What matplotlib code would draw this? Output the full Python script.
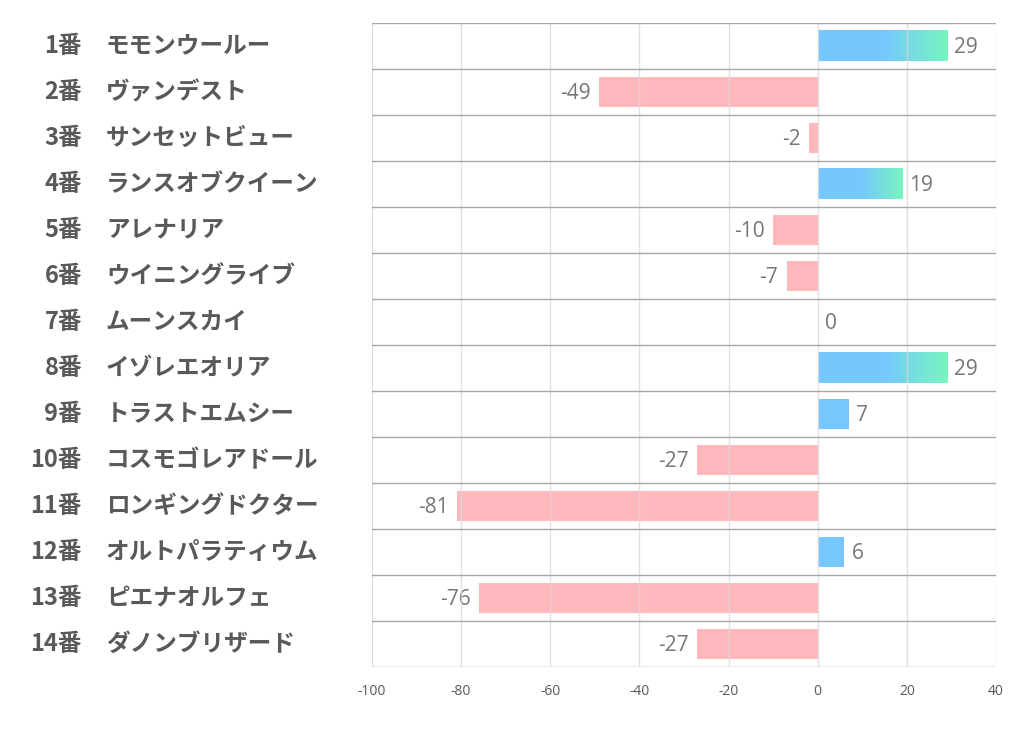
import numpy as np
import matplotlib
matplotlib.use("Agg")
import matplotlib.pyplot as plt
from matplotlib.transforms import blended_transform_factory
from matplotlib.colors import to_rgb

plt.rcParams['font.family'] = ['Noto Sans CJK JP', 'DejaVu Sans']

numbers = ["1番", "2番", "3番", "4番", "5番", "6番", "7番", "8番", "9番", "10番", "11番", "12番", "13番", "14番"]
names = ["モモンウールー", "ヴァンデスト", "サンセットビュー", "ランスオブクイーン", "アレナリア",
         "ウイニングライブ", "ムーンスカイ", "イゾレエオリア", "トラストエムシー", "コスモゴレアドール",
         "ロンギングドクター", "オルトパラティウム", "ピエナオルフェ", "ダノンブリザード"]
values = [29, -49, -2, 19, -10, -7, 0, 29, 7, -27, -81, 6, -76, -27]
xticks = [-100, -80, -60, -40, -20, 0, 20, 40]

BLUE = "#75C7FD"
GREEN = "#78F5C0"
PINK = "#FFB9BC"
TXT = "#595959"
VAL = "#767676"

fig = plt.figure(figsize=(10.22, 7.3), dpi=100)
ax = fig.add_axes([372/1022, 1-667/730, 624/1022, 644/730])
ax.set_xlim(-100, 40)
ax.set_ylim(len(values)-0.5, -0.5)

h = 0.67
b, g = np.array(to_rgb(BLUE)), np.array(to_rgb(GREEN))
for i, v in enumerate(values):
    if v < 0:
        ax.barh(i, v, height=h, color=PINK, zorder=2)
    elif v > 0:
        if v >= 10:
            t = np.linspace(0, 1, 200)
            f = np.clip((t - 0.5) / 0.5, 0, 1)[:, None]
            img = (b * (1 - f) + g * f)[None, :, :]
            ax.imshow(img, extent=[0, v, i + h/2, i - h/2], aspect='auto', zorder=2, interpolation='bilinear')
        else:
            ax.barh(i, v, height=h, color=BLUE, zorder=2)
    # value labels
    if v < 0:
        ax.annotate(str(v), (v, i), xytext=(-6, -1), textcoords='offset points', ha='right', va='center',
                    fontsize=15, color=VAL, family=['Open Sans', 'DejaVu Sans'])
    else:
        ax.annotate(str(v), (v, i), xytext=(5, -1), textcoords='offset points', ha='left', va='center',
                    fontsize=15, color=VAL, family=['Open Sans', 'DejaVu Sans'])

ax.set_xlim(-100, 40)
ax.set_ylim(len(values)-0.5, -0.5)

for x in xticks:
    ax.axvline(x, color="#D9D9D9", lw=1, zorder=3, alpha=0.8)
for k in range(len(values)+1):
    ax.axhline(k - 0.5, color="#A6A6A6", lw=1, zorder=3)

for s in ax.spines.values():
    s.set_visible(False)
ax.set_xticks(xticks)
ax.set_xticklabels([str(x) for x in xticks], fontsize=10, color=TXT, family=['Open Sans', 'DejaVu Sans'])
ax.tick_params(axis='x', length=0, pad=12)
ax.set_yticks([])

tr = blended_transform_factory(fig.transFigure, ax.transData)
for i, (n, nm) in enumerate(zip(numbers, names)):
    ax.text(82/1022, i, n, transform=tr, ha='right', va='center', fontsize=17, fontweight='bold', color=TXT)
    ax.text(106/1022, i, nm, transform=tr, ha='left', va='center', fontsize=17, fontweight='bold', color=TXT)

fig.savefig("out.png", dpi=100)
